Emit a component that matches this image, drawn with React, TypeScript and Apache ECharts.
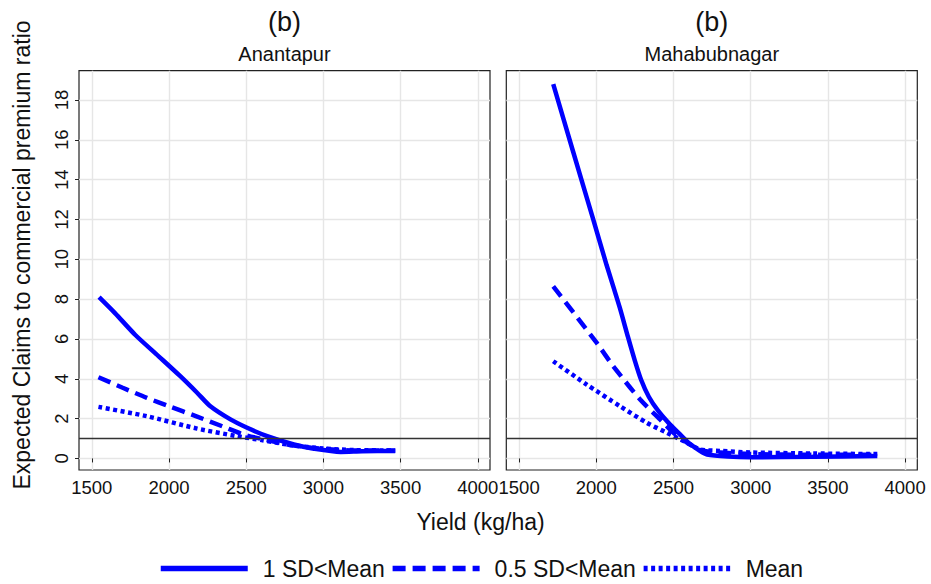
import React, { useEffect, useRef } from "react";
import * as echarts from "echarts";

const FONT = "'Liberation Sans', Arial, Helvetica, sans-serif";
const BLUE = "#0000ff";

const panelTitles = ["Anantapur", "Mahabubnagar"];
const panelTag = "(b)";
const seriesNames = ["1 SD<Mean", "0.5 SD<Mean", "Mean"];
const xTicks = [1500, 2000, 2500, 3000, 3500, 4000];
const yTicks = [0, 2, 4, 6, 8, 10, 12, 14, 16, 18];
const refLine = 1;

// Anantapur
const anSolid: [number, number][] = [
  [1547, 8.1], [1650, 7.3], [1782, 6.2], [1933, 5.13], [2073, 4.13], [2182, 3.3],
  [2268, 2.62], [2398, 1.96], [2506, 1.54], [2636, 1.12], [2809, 0.7], [2939, 0.49],
  [3112, 0.33], [3250, 0.36], [3465, 0.38],
];
const anDashed: [number, number][] = [
  [1543, 4.08], [1700, 3.55], [1857, 3.04], [2000, 2.62], [2182, 2.1], [2350, 1.6],
  [2484, 1.2], [2600, 0.98], [2800, 0.66], [3000, 0.48], [3200, 0.4], [3465, 0.4],
];
const anDotted: [number, number][] = [
  [1543, 2.59], [1857, 2.12], [2182, 1.5], [2441, 1.12], [2600, 0.92], [2800, 0.66],
  [3000, 0.5], [3200, 0.42], [3465, 0.4],
];

// Mahabubnagar
const mbSolid: [number, number][] = [
  [1721, 18.8], [1850, 15.4], [1980, 12.0], [2067, 9.7], [2151, 7.6], [2205, 6.1],
  [2250, 4.9], [2290, 3.95], [2340, 3.1], [2400, 2.4], [2478, 1.7], [2550, 1.15],
  [2608, 0.72], [2673, 0.37], [2717, 0.2], [2850, 0.1], [3000, 0.06], [3400, 0.08],
  [3820, 0.12],
];
const mbDashed: [number, number][] = [
  [1721, 8.64], [2003, 5.8], [2110, 4.63], [2284, 2.96], [2413, 1.96], [2500, 1.29],
  [2587, 0.8], [2673, 0.42], [2800, 0.3], [3000, 0.22], [3400, 0.18], [3820, 0.18],
];
const mbDotted: [number, number][] = [
  [1721, 4.88], [1938, 3.71], [2154, 2.62], [2327, 1.79], [2457, 1.29], [2587, 0.79],
  [2673, 0.45], [2800, 0.38], [3000, 0.3], [3400, 0.25], [3820, 0.22],
];

const panels = [
  { title: panelTitles[0], data: [anSolid, anDashed, anDotted] },
  { title: panelTitles[1], data: [mbSolid, mbDashed, mbDotted] },
];

const lineTypes: any[] = ["solid", [13, 7], [4, 3.5]];

export default function App() {
  const ref = useRef<HTMLDivElement>(null);
  useEffect(() => {
    if (!ref.current) return;
    const chart = echarts.init(ref.current, undefined, { renderer: "svg" });
    const gridLefts = [79, 506.3];
    const gridW = 411;
    const grids = gridLefts.map((l) => ({
      left: l,
      top: 70.7,
      width: gridW,
      height: 399.3,
      show: true,
      borderColor: "#222",
      borderWidth: 1.2,
      backgroundColor: "transparent",
    }));
    const xAxes = gridLefts.map((_, i) => ({
      type: "value",
      gridIndex: i,
      min: 1417,
      max: 4079,
      axisLine: { show: false },
      axisTick: { show: true, length: 4, lineStyle: { color: "#222" }, customValues: xTicks },
      axisLabel: {
        customValues: xTicks,
        formatter: (v: number) => String(v),
        color: "#111",
        fontSize: 18.5,
        fontFamily: FONT,
        margin: 8,
      },
      splitLine: { show: true, lineStyle: { color: "#e6e6e6", width: 1.4 } },
    }));
    const yAxes = gridLefts.map((_, i) => ({
      type: "value",
      gridIndex: i,
      min: -0.58,
      max: 19.47,
      axisLine: { show: false },
      axisTick: { show: i === 0, length: 4, lineStyle: { color: "#222" }, customValues: yTicks },
      axisLabel: {
        show: i === 0,
        customValues: yTicks,
        formatter: (v: number) => String(v),
        rotate: 90,
        color: "#111",
        fontSize: 18.5,
        fontFamily: FONT,
        margin: 8,
      },
      splitLine: { show: true, lineStyle: { color: "#e6e6e6", width: 1.4 } },
    }));
    const series: any[] = [];
    panels.forEach((p, i) => {
      series.push({
        type: "line",
        xAxisIndex: i,
        yAxisIndex: i,
        data: [],
        silent: true,
        z: 1,
        markLine: {
          silent: true,
          symbol: ["none", "none"],
          label: { show: false },
          lineStyle: { color: "#333", width: 1.3, type: "solid" },
          data: [{ yAxis: refLine }],
        },
      });
      p.data.forEach((d, k) => {
        series.push({
          name: seriesNames[k],
          type: "line",
          xAxisIndex: i,
          yAxisIndex: i,
          data: d,
          smooth: 0.25,
          symbol: "none",
          z: 3,
          lineStyle: { color: BLUE, width: 4.5, type: lineTypes[k], cap: "butt" },
          itemStyle: { color: BLUE },
        });
      });
    });
    const graphics: any[] = [];
    gridLefts.forEach((l, i) => {
      const cx = l + gridW / 2;
      graphics.push({
        type: "text",
        x: cx,
        y: 21.6,
        style: { text: panelTag, fontSize: 27, fontFamily: FONT, fill: "#111", textAlign: "center", textVerticalAlign: "middle" },
      });
      graphics.push({
        type: "text",
        x: cx,
        y: 54,
        style: { text: panels[i].title, fontSize: 20, fontFamily: FONT, fill: "#111", textAlign: "center", textVerticalAlign: "middle" },
      });
    });
    graphics.push({
      type: "text",
      x: 480.5,
      y: 522,
      style: { text: "Yield (kg/ha)", fontSize: 23, fontFamily: FONT, fill: "#111", textAlign: "center", textVerticalAlign: "middle" },
    });
    graphics.push({
      type: "text",
      x: 22,
      y: 255,
      rotation: Math.PI / 2,
      style: {
        text: "Expected Claims to commercial premium ratio",
        fontSize: 23,
        fontFamily: FONT,
        fill: "#111",
        textAlign: "center",
        textVerticalAlign: "middle",
      },
    });
    chart.setOption({
      animation: false,
      backgroundColor: "#fff",
      grid: grids,
      xAxis: xAxes,
      yAxis: yAxes,
      series,
      legend: {
        data: seriesNames,
        left: 153,
        top: 552,
        itemWidth: 87,
        itemHeight: 14,
        itemGap: 5,
        itemStyle: { opacity: 0 },
        lineStyle: { width: 5.5 },
        textStyle: { fontSize: 23, fontFamily: FONT, color: "#111", padding: [0, 0, 0, 10] },
      },
      graphic: graphics,
    });
    return () => chart.dispose();
  }, []);
  return (
    <div
      ref={ref}
      style={{ width: 931, height: 584, position: "fixed", left: 0, top: 0 }}
    />
  );
}
